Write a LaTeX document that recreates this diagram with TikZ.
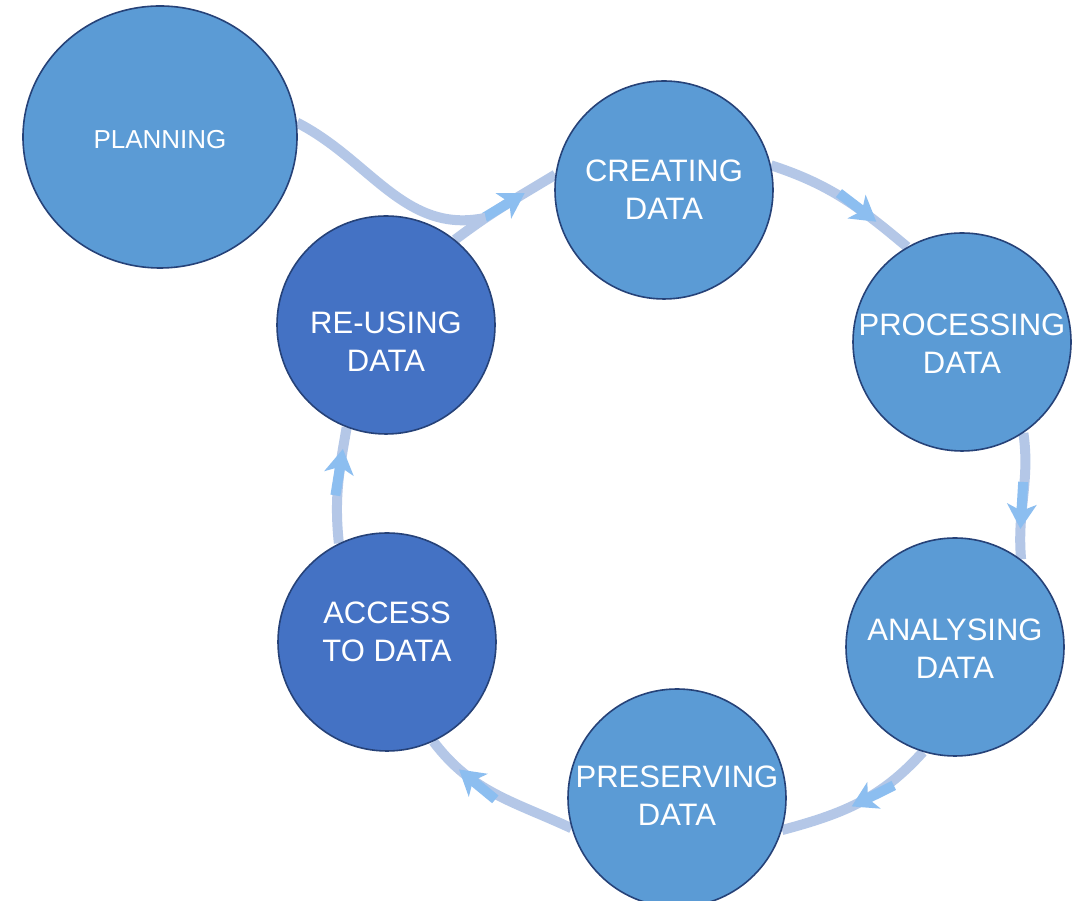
\documentclass[tikz,border=0pt]{standalone}
\usepackage{fontspec}
\setmainfont{Liberation Sans}
\usetikzlibrary{decorations.markings,backgrounds,shapes.geometric}
\definecolor{lightfill}{RGB}{91,155,213}
\definecolor{darkfill}{RGB}{68,114,196}
\definecolor{edgec}{RGB}{38,66,120}
\definecolor{connc}{RGB}{180,199,231}
\definecolor{arrc}{RGB}{140,190,240}
\begin{document}
\begin{tikzpicture}[x=1pt,y=1pt,
  stage/.style={circle, draw=edgec, line width=1.6pt, minimum size=218pt, inner sep=0pt},
  lt/.style={stage, fill=lightfill},
  dk/.style={stage, fill=darkfill},
  txt/.style={text=white, align=center, font=\fontsize{31}{38}\selectfont},
  conn/.style={draw=connc, line width=10pt},
  arrowat/.style={postaction={decorate}, decoration={markings, mark=at position #1 with {\fill[arrc] (-42pt,-5pt) rectangle (-13pt,5pt); \fill[arrc] (5pt,0pt) -- (-20pt,15pt) -- (-13pt,0pt) -- (-20pt,-15pt) -- cycle;}}}
]
\useasboundingbox (0,0) rectangle (1084,901);
\node[ellipse, draw=edgec, line width=1.6pt, fill=lightfill, minimum width=274pt, minimum height=262pt,
  label={[txt, font=\fontsize{26}{31}\selectfont, yshift=-3pt]center:PLANNING}] (plan) at (160,764) {};
\node[lt, label={[txt]center:CREATING\\DATA}] (create) at (664,711) {};
\node[lt, label={[txt, yshift=-2pt]center:PROCESSING\\DATA}] (process) at (962,559) {};
\node[lt, label={[txt, yshift=-2pt]center:ANALYSING\\DATA}] (analyse) at (955,254) {};
\node[lt, label={[txt, yshift=2pt]center:PRESERVING\\DATA}] (preserve) at (677,103) {};
\node[dk, label={[txt, yshift=10pt]center:ACCESS\\TO DATA}] (access) at (387,259) {};
\node[dk, label={[txt, yshift=-17pt]center:RE-USING\\DATA}] (reuse) at (386,576) {};
\begin{scope}[on background layer]
\fill[white] (0,0) rectangle (1084,901);
\draw[conn, arrowat=0.66] (reuse.51) to[out=37,in=211] node[coordinate,pos=0.3] (join) {} (create.172);
\draw[conn] (plan.6) to[out=-27,in=192] (join);
\draw[conn, arrowat=0.72] (create.13) to[out=-18,in=140] (process.120);
\draw[conn, arrowat=0.72] (process.-56) to[out=-82,in=95] (analyse.53);
\draw[conn, arrowat=0.52] (analyse.-107) to[out=-132,in=15] (preserve.-17);
\draw[conn, arrowat=0.74] (preserve.-164) to[out=155,in=-53] (access.-65);
\draw[conn, arrowat=0.77] (access.116) to[out=96,in=-100] (reuse.249);
\end{scope}
\end{tikzpicture}
\end{document}
